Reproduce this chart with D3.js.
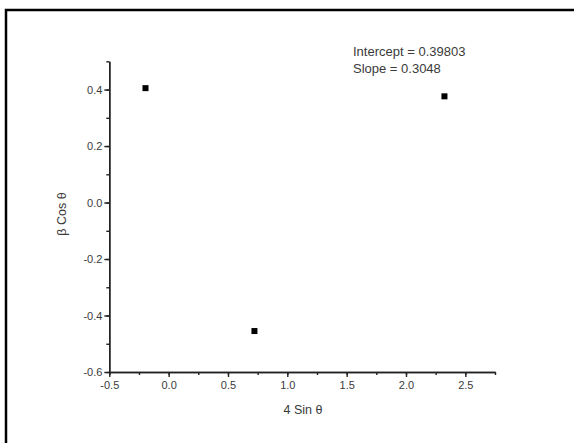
<!DOCTYPE html>
<html>
  <head>
    <meta charset="utf-8" />
    <title>Williamson-Hall plot</title>
    <style>
      body { margin: 0; background: #fff; overflow: hidden; }
      text { font-family: 'Liberation Sans', Arial, sans-serif; fill: #3a3a3a; }
      .axis path, .axis line { stroke: #222; stroke-width: 1.4px; }
    </style>
    <script src="https://d3js.org/d3.v7.min.js"></script>
  </head>
  <body>
    <svg width="574" height="443"></svg>
    <script>
      // data
      var xValues = [-0.195, 0.723, 2.324]
      var yValues = [0.405, -0.455, 0.376]
      var xTicks = [-0.5, 0.0, 0.5, 1.0, 1.5, 2.0, 2.5]
      var yTicks = [-0.6, -0.4, -0.2, 0.0, 0.2, 0.4]
      var fitText = ['Intercept = 0.39803', 'Slope = 0.3048']

      var svg = d3.select('svg')
      var fmt = function (d) { return d3.format('.1f')(d).replace('−', '-') }

      // outer frame: only its top and left edges fall inside the image
      svg.append('path')
        .attr('d', 'M6,443V10H574')
        .attr('fill', 'none')
        .attr('stroke', '#000')
        .attr('stroke-width', 2.5)

      var x = d3.scaleLinear().domain([-0.5, 2.75]).range([109.3, 495])
      var y = d3.scaleLinear().domain([-0.6, 0.5]).range([372, 61.3])

      // x axis: minor then major ticks
      svg.append('g').attr('class', 'axis').attr('transform', 'translate(0,' + y(-0.6) + ')')
        .call(d3.axisBottom(x).tickValues(d3.range(-0.5, 2.76, 0.25)).tickSize(3).tickSizeOuter(0).tickFormat(''))
      var gx = svg.append('g').attr('class', 'axis').attr('transform', 'translate(0,' + y(-0.6) + ')')
        .call(d3.axisBottom(x).tickValues(xTicks).tickSize(5).tickSizeOuter(0).tickFormat(fmt))
      gx.selectAll('text').attr('font-size', 11).attr('dy', '0.85em')

      // y axis
      svg.append('g').attr('class', 'axis').attr('transform', 'translate(' + x(-0.5) + ',0)')
        .call(d3.axisLeft(y).tickValues(d3.range(-0.6, 0.51, 0.1)).tickSize(3).tickSizeOuter(0).tickFormat(''))
      var gy = svg.append('g').attr('class', 'axis').attr('transform', 'translate(' + x(-0.5) + ',0)')
        .call(d3.axisLeft(y).tickValues(yTicks).tickSize(5).tickSizeOuter(0).tickFormat(fmt))
      gy.selectAll('text').attr('font-size', 11).attr('dx', '0.1em')

      // axis titles
      svg.append('text')
        .attr('x', 303).attr('y', 414)
        .attr('text-anchor', 'middle')
        .attr('font-size', 12.5)
        .text('4 Sin θ')
      svg.append('text')
        .attr('transform', 'translate(66,214) rotate(-90)')
        .attr('text-anchor', 'middle')
        .attr('font-size', 12.5)
        .text('β Cos θ')

      // points
      svg.selectAll('.pt')
        .data(xValues)
        .enter()
        .append('rect')
        .attr('class', 'pt')
        .attr('x', function (d) { return x(d) - 3 })
        .attr('y', function (d, i) { return y(yValues[i]) - 3 })
        .attr('width', 6)
        .attr('height', 6)
        .attr('fill', '#000')

      // fit annotation
      svg.selectAll('.fit')
        .data(fitText)
        .enter()
        .append('text')
        .attr('class', 'fit')
        .attr('x', 353)
        .attr('y', function (d, i) { return 56 + i * 16.5 })
        .attr('font-size', 13)
        .text(function (d) { return d })
    </script>
  </body>
</html>
